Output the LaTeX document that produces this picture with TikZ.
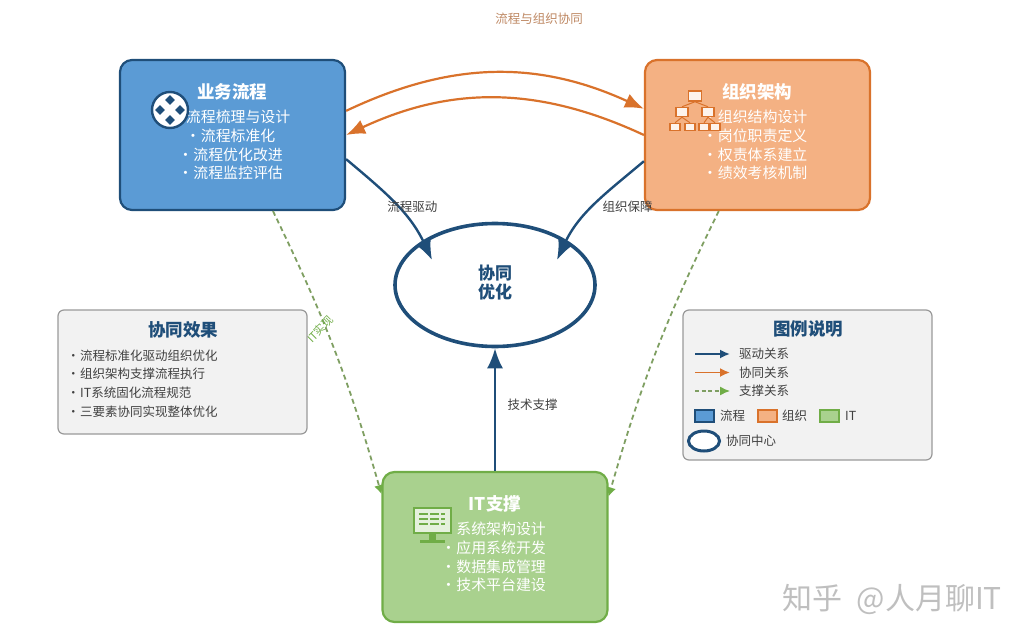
\documentclass[tikz,border=0pt]{standalone}
\usepackage{fontspec}
\usepackage{xcolor}
\setmainfont{Noto Sans CJK SC}
\usetikzlibrary{arrows.meta,shapes.geometric}
\definecolor{flowfill}{HTML}{5B9BD5}
\definecolor{flowline}{HTML}{1F4E79}
\definecolor{orgfill}{HTML}{F4B183}
\definecolor{orgline}{HTML}{D9722B}
\definecolor{itfill}{HTML}{A9D18E}
\definecolor{itline}{HTML}{70AD47}
\definecolor{dashline}{HTML}{7F9F62}
\definecolor{panelfill}{HTML}{F2F2F2}
\definecolor{panelline}{HTML}{999999}
\definecolor{textgray}{HTML}{404040}
\tikzset{basic/.style={draw,rounded corners=12pt,line width=2.2pt,
                       minimum width=225pt,minimum height=150pt}}
\tikzset{panel/.style={draw=panelline,fill=panelfill,rounded corners=6pt,
                       line width=1.2pt,minimum width=249pt}}
\newcommand{\fsize}[1]{\fontsize{#1}{#1}\selectfont}
\newcommand{\dotitem}{•\hspace{0.4pt}}

\begin{document}
\begin{tikzpicture}[x=1pt,y=-1pt,
      % styles for clarity
      boxtitle/.style ={text=white,font=\fsize{17.5}\bfseries},
      boxline/.style  ={text=white,font=\fsize{14.9},inner sep=0pt},
      small/.style    ={text=textgray,font=\fsize{12.5},inner sep=0pt},
      headline/.style ={text=flowline,font=\fsize{17.5}\bfseries,inner sep=0pt},
      drive/.style    ={draw=flowline,line width=2.4pt,-{Latex[length=20pt,width=16pt]}},
      sync/.style     ={draw=orgline,line width=2.2pt,-{Latex[length=19pt,width=15pt]}},
      support/.style  ={draw=dashline,line width=1.8pt,dash pattern=on 5pt off 3.5pt,
                        -{Latex[length=9pt,width=10pt,color=itline]}},
      tinydrive/.style={draw=flowline,line width=1.8pt,shorten >=9pt,-{Latex[length=10pt,width=9pt]}},
      tinysync/.style ={draw=orgline,line width=1.8pt,shorten >=9pt,-{Latex[length=10pt,width=9pt]}},
      tinysup/.style  ={draw=dashline,line width=1.4pt,shorten >=9pt,dash pattern=on 4pt off 2.5pt,
                        -{Latex[length=10pt,width=9pt,color=itline]}},
      swatch/.style   ={draw,line width=2pt,minimum width=19pt,minimum height=12pt,inner sep=0pt},
      dia/.style      ={diamond,fill=flowline,inner sep=0pt,minimum size=10pt},
      orgnode/.style  ={draw=orgline,fill=white!85!orgfill,line width=1.5pt,inner sep=0pt}
    ]
    \useasboundingbox (0,0) rectangle (1029,640);

    % three main boxes and the centre
    \node[basic,draw=flowline,fill=flowfill] (flow) at (232.5,135) {};
    \node[basic,draw=orgline,fill=orgfill]   (org)  at (757.5,135) {};
    \node[basic,draw=itline,fill=itfill]     (it)   at (495,547)   {};
    \node[draw=flowline,fill=white,ellipse,line width=3.6pt,minimum width=200pt,
          minimum height=123pt,inner sep=0pt] (hub) at (495,285) {};
    \node[text=flowline,font=\fsize{17}\bfseries,inner sep=0pt] (hubt) at (495,273) {协同};
    \node[text=flowline,font=\fsize{17}\bfseries,inner sep=0pt] (hubb) at (495,292) {优化};

    \node[text=orgline!75!black!70,font=\fsize{12.5}] (title) at (539,19) {流程与组织协同};

    % box texts
    \node[boxtitle] (flowt) at (232,92)  {业务流程};
    \node[boxtitle] (orgt)  at (757,92)  {组织架构};
    \node[boxtitle] (itt)   at (495,504) {IT支撑};
    \foreach \t [count=\i from 0] in {流程梳理与设计,流程标准化,流程优化改进,流程监控评估}{
      \node[boxline] (flow\i) at (230.5,117+18.7*\i) {\dotitem\t};
    }
    \foreach \t [count=\i from 0] in {组织结构设计,岗位职责定义,权责体系建立,绩效考核机制}{
      \node[boxline] (org\i) at (755,117+18.7*\i) {\dotitem\t};
    }
    \foreach \t [count=\i from 0] in {系统架构设计,应用系统开发,数据集成管理,技术平台建设}{
      \node[boxline] (it\i) at (493.5,529+18.7*\i) {\dotitem\t};
    }

    % icon of the flow box
    \node[circle,draw=flowline,fill=white,line width=2.4pt,minimum size=36pt,inner sep=0pt] (ficon) at (170,110) {};
    \node[dia] (d1) at (170,100) {};
    \node[dia] (d2) at (160,110) {};
    \node[dia] (d3) at (180,110) {};
    \node[dia] (d4) at (170,120) {};

    % icon of the org box
    \node[orgnode,minimum width=13pt,minimum height=10pt] (top) at (695,96) {};
    \node[orgnode,minimum width=12pt,minimum height=9pt] (m1) at (682,112) {};
    \node[orgnode,minimum width=12pt,minimum height=9pt] (m2) at (708,112) {};
    \foreach \x [count=\i from 1] in {675,690,704,715}{
      \node[orgnode,minimum width=10pt,minimum height=7pt] (b\i) at (\x,127) {};
    }
    \draw[orgline,line width=1pt] (top.south) -- (m1.north) (top.south) -- (m2.north)
      (m1.south) -- (b1.north) (m1.south) -- (b2.north)
      (m2.south) -- (b3.north) (m2.south) -- (b4.north);

    % icon of the IT box
    \node[draw=itline,fill=white!70!itfill,line width=2pt,minimum width=37pt,minimum height=25pt,inner sep=0pt] (screen) at (432,520) {};
    \node[fill=itline,minimum width=7pt,minimum height=6pt,inner sep=0pt,anchor=north] (stand) at (screen.south) {};
    \node[fill=itline,minimum width=25pt,minimum height=2.5pt,inner sep=0pt,anchor=north] (base) at (stand.south) {};
    \foreach \y in {514,519,524}{
      \draw[itline,line width=1.6pt,dash pattern=on 9pt off 2pt] (419,\y) -- (445,\y);
    }

    % connectors
    \draw[sync] (flow.12.5) to[bend left=25] (org.167.5);
    \draw[sync] (org.west) to[bend right=25] (flow.east);
    \coordinate (hubl) at (432,260);
    \coordinate (hubr) at (557,260);
    \draw[drive] (flow.-12.5) to[out=-40,in=115] node[pos=.52,xshift=15pt,yshift=0pt,small] (l1) {流程驱动} (hubl);
    \draw[drive] (org.-167.5) to[out=-140,in=65] node[pos=.52,xshift=35.5pt,yshift=1pt,small] (l2) {组织保障} (hubr);
    \draw[drive] (it.north) -- node[pos=.54,xshift=37.5pt,small] (l3) {技术支撑} (hub.south);
    \draw[support] (flow.-62.8) to[bend left=5] node[pos=.42,xshift=-6pt,rotate=45,inner sep=0pt,text=itline,font=\fsize{11}] (l4) {IT实现} (it.155.3);
    \draw[support] (org.-117.2) to[bend right=5] (it.24.7);

    % left panel
    \node[panel,minimum height=124pt] (effect) at (182.5,372) {};
    \node[headline] (effectt) at (183,330) {协同效果};
    \foreach \t [count=\i from 0] in {流程标准化驱动组织优化,组织架构支撑流程执行,IT系统固化流程规范,三要素协同实现整体优化}{
      \node[small,anchor=west] (effect\i) at (67,355.5+18.7*\i) {\dotitem\t};
    }

    % legend
    \node[panel,minimum height=150pt] (legend) at (807.5,385) {};
    \node[headline] (legendt) at (808,329) {图例说明};
    \node[small,anchor=west] (k1) at (739,354) {驱动关系};
    \node[small,anchor=west] (k2) at (739,372.5) {协同关系};
    \node[small,anchor=west] (k3) at (739,391) {支撑关系};
    \coordinate (a1) at (695,354);
    \coordinate (a2) at (695,372.5);
    \coordinate (a3) at (695,391);
    \draw[tinydrive] (a1) -- (k1.west);
    \draw[tinysync]  (a2) -- (k2.west);
    \draw[tinysup]   (a3) -- (k3.west);
    \node[swatch,draw=flowline,fill=flowfill] (s1) at (704.5,416) {};
    \node[swatch,draw=orgline,fill=orgfill]   (s2) at (767,416)   {};
    \node[swatch,draw=itline,fill=itfill]     (s3) at (829.5,416) {};
    \node[small,anchor=west] (k4) at (720,415.5) {流程};
    \node[small,anchor=west] (k5) at (782,415.5) {组织};
    \node[small,anchor=west] (k6) at (845,415.5) {IT};
    \node[draw=flowline,fill=white,ellipse,line width=3pt,minimum width=31pt,minimum height=20pt,inner sep=0pt] (s4) at (704,441) {};
    \node[small,anchor=west] (k7) at (726,440.5) {协同中心};

    \node[text=black!25,font=\fsize{30},inner sep=0pt] (mark) at (892,599) {知乎\hspace{8pt} @人月聊IT};
  \end{tikzpicture}
\end{document}
